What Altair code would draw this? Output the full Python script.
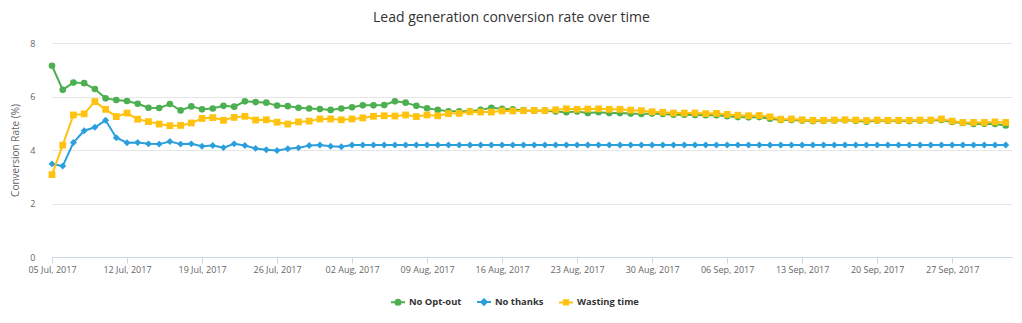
import altair as alt
import pandas as pd

series_names = ["No Opt-out", "No thanks", "Wasting time"]
series_colors = ["#4caf50", "#2b9fdc", "#ffc20e"]
series_shapes = ["circle", "diamond", "square"]
series_sizes = [44, 48, 46]
legend_paths = [
    "M-1,0L1,0M0.36,0A0.36,0.36,0,1,1,-0.36,0A0.36,0.36,0,1,1,0.36,0Z",
    "M-1,0L1,0M0,-0.4L0.4,0L0,0.4L-0.4,0Z",
    "M-1,0L1,0M-0.3,-0.3L0.3,-0.3L0.3,0.3L-0.3,0.3Z",
]

dates = [d.strftime("%Y-%m-%d") for d in pd.date_range("2017-07-05", "2017-10-02", freq="D")]

no_opt_out = [
    7.15, 6.25, 6.52, 6.50, 6.28, 5.93, 5.87, 5.83, 5.73, 5.58,
    5.57, 5.72, 5.48, 5.63, 5.52, 5.55, 5.65, 5.62, 5.82, 5.79,
    5.77, 5.66, 5.64, 5.58, 5.55, 5.53, 5.50, 5.55, 5.60, 5.67,
    5.67, 5.68, 5.82, 5.77, 5.65, 5.56, 5.50, 5.45, 5.45, 5.45,
    5.50, 5.58, 5.54, 5.52, 5.48, 5.47, 5.47, 5.44, 5.41, 5.44,
    5.38, 5.41, 5.38, 5.38, 5.36, 5.35, 5.36, 5.35, 5.32, 5.32,
    5.31, 5.30, 5.30, 5.26, 5.23, 5.22, 5.23, 5.17, 5.12, 5.12,
    5.10, 5.08, 5.09, 5.10, 5.11, 5.09, 5.06, 5.10, 5.09, 5.09,
    5.08, 5.10, 5.10, 5.12, 5.05, 5.01, 4.97, 4.98, 4.97, 4.92,
]
no_thanks = [
    3.48, 3.40, 4.28, 4.72, 4.85, 5.11, 4.46, 4.27, 4.28, 4.23,
    4.22, 4.32, 4.22, 4.23, 4.14, 4.17, 4.09, 4.23, 4.17, 4.06,
    4.01, 3.98, 4.05, 4.08, 4.17, 4.19, 4.14, 4.12, 4.19, 4.19,
    4.19, 4.19, 4.19, 4.19, 4.19, 4.19, 4.19, 4.19, 4.19, 4.19,
    4.19, 4.19, 4.19, 4.19, 4.19, 4.19, 4.19, 4.19, 4.19, 4.19,
    4.19, 4.19, 4.19, 4.19, 4.19, 4.19, 4.19, 4.19, 4.19, 4.19,
    4.19, 4.19, 4.19, 4.19, 4.19, 4.19, 4.19, 4.19, 4.19, 4.19,
    4.19, 4.19, 4.19, 4.19, 4.19, 4.19, 4.19, 4.19, 4.19, 4.19,
    4.19, 4.19, 4.19, 4.19, 4.19, 4.19, 4.19, 4.19, 4.19, 4.19,
]
wasting_time = [
    3.08, 4.18, 5.31, 5.35, 5.81, 5.52, 5.25, 5.38, 5.15, 5.06,
    4.97, 4.91, 4.92, 5.01, 5.18, 5.21, 5.11, 5.22, 5.26, 5.12,
    5.13, 5.04, 4.97, 5.05, 5.08, 5.16, 5.16, 5.13, 5.16, 5.20,
    5.26, 5.28, 5.27, 5.31, 5.25, 5.31, 5.28, 5.36, 5.37, 5.43,
    5.42, 5.42, 5.46, 5.46, 5.47, 5.48, 5.47, 5.50, 5.54, 5.52,
    5.53, 5.54, 5.52, 5.52, 5.49, 5.47, 5.43, 5.41, 5.38, 5.38,
    5.38, 5.36, 5.37, 5.33, 5.30, 5.28, 5.29, 5.24, 5.15, 5.16,
    5.13, 5.11, 5.11, 5.12, 5.13, 5.12, 5.10, 5.12, 5.11, 5.11,
    5.11, 5.12, 5.12, 5.16, 5.08, 5.03, 5.03, 5.03, 5.05, 5.03,
]

tick_dates = [
    (7, 5), (7, 12), (7, 19), (7, 26), (8, 2), (8, 9), (8, 16),
    (8, 23), (8, 30), (9, 6), (9, 13), (9, 20), (9, 27),
]

rows = []
for name, vals in zip(series_names, [no_opt_out, no_thanks, wasting_time]):
    for d, v in zip(dates, vals):
        rows.append({"date": d, "series": name, "value": v})
df = pd.DataFrame(rows)

FONT = "Open Sans"

x_enc = alt.X(
    "date:T",
    title=None,
    scale=alt.Scale(
        type="utc",
        domain=[
            alt.DateTime(year=2017, month=7, date=5, utc=True),
            alt.DateTime(year=2017, month=10, date=2, hours=14, utc=True),
        ],
        nice=False,
    ),
    axis=alt.Axis(
        values=[alt.DateTime(year=2017, month=m, date=d, utc=True) for m, d in tick_dates],
        format="%d %b, %Y",
        grid=False,
        domainColor="#ccd6eb",
        tickColor="#ccd6eb",
        tickSize=6,
        labelFont=FONT,
        labelFontSize=9,
        labelColor="#666666",
        labelPadding=2,
        labelFlush=False,
    ),
)
y_enc = alt.Y(
    "value:Q",
    title="Conversion Rate (%)",
    scale=alt.Scale(domain=[0, 8], nice=False),
    axis=alt.Axis(
        values=[0, 2, 4, 6, 8],
        domain=False,
        ticks=False,
        grid=True,
        gridColor="#e6e6e6",
        labelFont=FONT,
        labelFontSize=9,
        labelColor="#666666",
        labelPadding=17,
        titleFont=FONT,
        titleFontSize=10,
        titleFontWeight="normal",
        titleColor="#666666",
        titlePadding=9,
    ),
)

layers = []
for name, col, shp, sz in zip(series_names, series_colors, series_shapes, series_sizes):
    base = alt.Chart(df).transform_filter(alt.datum.series == name)
    layers.append(base.mark_line(strokeWidth=2, color=col).encode(x=x_enc, y=y_enc))
    layers.append(
        base.mark_point(filled=True, opacity=1, shape=shp, size=sz, color=col).encode(x=x_enc, y=y_enc)
    )

legend_props = dict(
    title=None,
    orient="none",
    legendX=338,
    legendY=251,
    direction="horizontal",
    labelFont=FONT,
    labelFontSize=9.4,
    labelFontWeight="bold",
    labelColor="#333333",
    symbolSize=196,
    symbolStrokeWidth=2,
    labelOffset=3,
    columnPadding=11,
)

legend_layer = (
    alt.Chart(df)
    .transform_filter("false")
    .mark_point(filled=False, opacity=1, strokeWidth=2)
    .encode(
        x=x_enc,
        y=y_enc,
        fill=alt.Fill("series:N", scale=alt.Scale(domain=series_names, range=series_colors), legend=alt.Legend(**legend_props)),
        stroke=alt.Stroke("series:N", scale=alt.Scale(domain=series_names, range=series_colors), legend=alt.Legend(**legend_props)),
        shape=alt.Shape("series:N", scale=alt.Scale(domain=series_names, range=legend_paths), legend=alt.Legend(**legend_props)),
    )
)
layers.append(legend_layer)

chart = (
    alt.layer(*layers)
    .properties(
        width=960,
        height=214,
        title=alt.TitleParams(
            "Lead generation conversion rate over time",
            font=FONT,
            fontSize=14,
            fontWeight="normal",
            color="#333333",
            anchor="middle",
            frame="bounds",
            offset=14,
        ),
        autosize=alt.AutoSizeParams(type="none"),
        padding={"left": 52, "top": 43, "right": 10, "bottom": 66},
    )
    .configure(background="#ffffff")
    .configure_view(stroke=None)
)

chart.save("out.html", embed_options={"renderer": "svg", "actions": False})
